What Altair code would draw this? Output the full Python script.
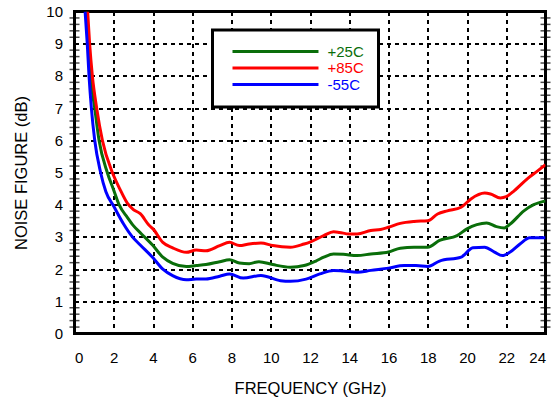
import altair as alt
import pandas as pd

# +25C (green)
freq_25 = [0.6, 0.72, 0.82, 1.03, 1.25, 1.67, 2.0, 2.27, 2.7, 3.0, 3.4, 4.0, 4.5, 5.0, 5.7, 6.2, 6.7,
           7.4, 7.9, 8.4, 8.9, 9.4, 10.1, 11.0, 11.7, 12.3, 12.7, 13.2, 13.7, 14.4, 15.1, 16.0, 16.6,
           17.3, 18.0, 18.6, 19.5, 20.0, 20.5, 21.0, 21.5, 21.9, 22.2, 22.9, 23.4, 24.0]
nf_25 = [10.0, 9.0, 8.0, 7.0, 6.0, 5.0, 4.45, 4.0, 3.6, 3.35, 3.1, 2.73, 2.37, 2.18, 2.08, 2.11, 2.14,
         2.23, 2.29, 2.19, 2.17, 2.23, 2.14, 2.06, 2.11, 2.25, 2.37, 2.47, 2.46, 2.42, 2.47, 2.53, 2.65,
         2.68, 2.68, 2.89, 3.04, 3.25, 3.38, 3.43, 3.32, 3.28, 3.4, 3.81, 4.0, 4.12]

# +85C (red)
freq_85 = [0.67, 0.77, 0.91, 1.13, 1.42, 1.93, 2.3, 2.69, 3.0, 3.35, 3.8, 4.0, 4.5, 5.0, 5.7, 6.2, 6.7,
           7.4, 7.9, 8.4, 8.9, 9.5, 10.1, 11.0, 11.7, 12.0, 12.7, 13.2, 13.5, 14.0, 14.4, 15.1, 15.6,
           16.0, 16.6, 17.3, 18.0, 18.5, 19.0, 19.7, 20.2, 20.9, 21.2, 21.7, 22.0, 22.4, 23.1, 23.6, 24.0]
nf_85 = [10.0, 9.0, 8.0, 7.0, 6.0, 5.0, 4.5, 4.05, 3.85, 3.72, 3.36, 3.25, 2.83, 2.66, 2.52, 2.59, 2.57,
         2.73, 2.83, 2.73, 2.78, 2.81, 2.73, 2.68, 2.78, 2.84, 3.04, 3.16, 3.14, 3.09, 3.09, 3.2, 3.23,
         3.3, 3.42, 3.48, 3.5, 3.71, 3.81, 3.92, 4.18, 4.36, 4.33, 4.21, 4.25, 4.43, 4.82, 5.05, 5.24]

# -55C (blue)
freq_55 = [0.54, 0.65, 0.74, 0.86, 1.03, 1.33, 1.6, 2.0, 2.5, 2.95, 3.35, 4.0, 4.5, 5.0, 5.7, 6.2, 6.7,
           7.4, 7.9, 8.6, 9.5, 10.5, 11.0, 11.8, 12.5, 13.2, 13.7, 14.4, 15.1, 16.0, 16.8, 17.4, 18.0,
           18.6, 19.7, 20.3, 20.9, 21.4, 21.8, 22.2, 22.7, 23.2, 24.0]
nf_55 = [10.0, 9.0, 8.0, 7.0, 6.0, 5.0, 4.4, 3.95, 3.4, 3.0, 2.75, 2.35, 2.0, 1.8, 1.67, 1.69, 1.69,
         1.78, 1.85, 1.72, 1.8, 1.64, 1.62, 1.69, 1.85, 1.96, 1.94, 1.9, 1.96, 2.03, 2.11, 2.11, 2.08,
         2.25, 2.37, 2.66, 2.68, 2.53, 2.42, 2.53, 2.78, 2.97, 2.97]

series_names = ["+25C", "+85C", "-55C"]
series_colors = ["#0a6e0a", "#ff0000", "#0000ff"]
x_ticks = list(range(0, 25, 2))
y_ticks = list(range(0, 11))
y_minor = [round(i * 0.2, 1) for i in range(51) if i % 5]
x_edges = [0, 24]

rows = []
for name, fs, vs in zip(series_names, [freq_25, freq_85, freq_55], [nf_25, nf_85, nf_55]):
    for f, v in zip(fs, vs):
        rows.append({"series": name, "freq": f, "nf": v})
df = pd.DataFrame(rows)

minor_df = pd.DataFrame([{"freq": e, "nf": m} for e in x_edges for m in y_minor])

FONT = "Liberation Sans"
W, H = 471, 322

xscale = alt.Scale(domain=[0, 24], nice=False, zero=False)
yscale = alt.Scale(domain=[0, 10], nice=False)

color = alt.Color(
    "series:N",
    scale=alt.Scale(domain=series_names, range=series_colors),
    legend=alt.Legend(
        title=None, orient="none", legendX=138, legendY=18.5, direction="vertical",
        symbolType="M-0.25,0H14.08", symbolSize=144, symbolStrokeWidth=3,
        labelFontSize=15, labelFont=FONT, labelOffset=86,
        labelColor=alt.ExprRef(expr="datum.label == '+25C' ? '#0a6e0a' : datum.label == '+85C' ? '#ff0000' : '#0000ff'"),
        strokeColor="black", fillColor="white", padding=14, rowPadding=0.5,
    ),
)

grid_kw = dict(grid=True, gridColor="black", gridDash=[4, 4], gridWidth=2, gridOpacity=1,
               ticks=False, domain=False, labelFont=FONT, labelFontSize=15, labelColor="black",
               titleFont=FONT, titleFontSize=16.5, titleFontWeight="normal", titleColor="black")

lines = alt.Chart(df).mark_line(strokeWidth=3, interpolate="monotone", clip=True).encode(
    x=alt.X("freq:Q", scale=xscale,
            axis=alt.Axis(values=x_ticks, title="FREQUENCY (GHz)", labelPadding=17, titlePadding=15, **grid_kw)),
    y=alt.Y("nf:Q", scale=yscale,
            axis=alt.Axis(values=y_ticks, title="NOISE FIGURE (dB)", labelPadding=12, titlePadding=16, **grid_kw)),
    color=color,
    order="freq:Q",
)

minor = alt.Chart(minor_df).mark_tick(orient="horizontal", size=10, thickness=1.5, color="black").encode(
    x=alt.X("freq:Q", scale=xscale, axis=None),
    y=alt.Y("nf:Q", scale=yscale, axis=None),
)

chart = alt.layer(minor, lines).resolve_axis(x="independent", y="independent").properties(
    width=W, height=H,
    autosize=alt.AutoSizeParams(type="none"),
    padding={"left": 74.5, "top": 11.5, "right": 7.5, "bottom": 66.5},
).configure_view(stroke="black", strokeWidth=3).configure_legend(strokeWidth=3)

chart.save("out.html", embed_options={"renderer": "svg", "actions": False})
